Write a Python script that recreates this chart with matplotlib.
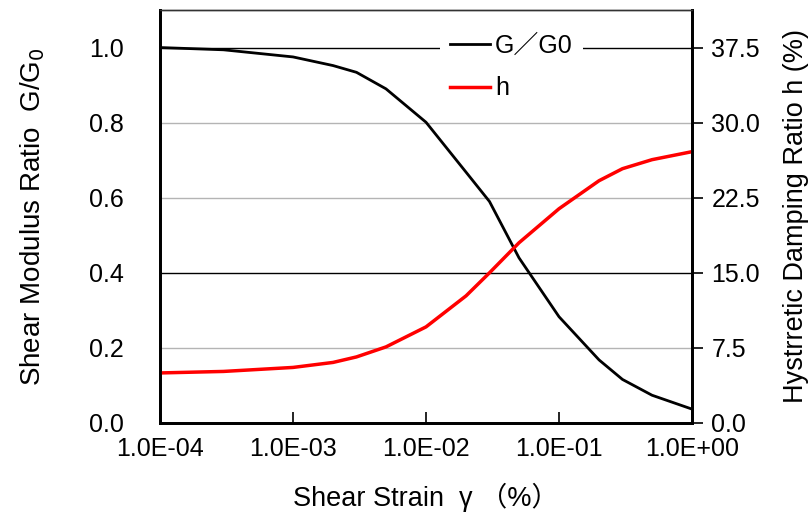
import matplotlib.pyplot as plt
from matplotlib.ticker import FixedLocator, FuncFormatter

plt.rcParams['font.family'] = ['Liberation Sans', 'Noto Sans CJK JP', 'DejaVu Sans']
plt.rcParams['axes.unicode_minus'] = False

strain = [1e-4, 3e-4, 1e-3, 2e-3, 3e-3, 5e-3, 1e-2, 2e-2, 3e-2, 5e-2,
          1e-1, 2e-1, 3e-1, 5e-1, 1.0]
g_ratio = [1.0, 0.994, 0.975, 0.952, 0.934, 0.890, 0.801, 0.668, 0.59, 0.44,
           0.283, 0.168, 0.116, 0.074, 0.037]
damping = [5.0, 5.15, 5.55, 6.05, 6.6, 7.6, 9.6, 12.7, 15.0, 18.0,
           21.4, 24.2, 25.4, 26.3, 27.1]

fig = plt.figure(figsize=(8.11, 5.18), dpi=100)
ax = fig.add_axes([0.1973, 0.1834, 0.6560, 0.7973])
ax2 = ax.twinx()

# horizontal grid: grey, with black lines at 0.4 and 1.0
for y in [0.2, 0.6, 0.8]:
    ax.axhline(y, color='#b4b4b4', lw=1, zorder=0)
for y in [0.4, 1.0]:
    ax.axhline(y, color='black', lw=1, zorder=0)

l1, = ax.plot(strain, g_ratio, color='black', lw=2, label='G／G0')
l2, = ax2.plot(strain, damping, color='red', lw=2.5, label='h')

ax.set_xscale('log')
ax.set_xlim(1e-4, 1.0)
ax.set_ylim(0, 1.1)
ax2.set_ylim(0, 41.25)

ax.xaxis.set_major_locator(FixedLocator([1e-4, 1e-3, 1e-2, 1e-1, 1.0]))
ax.xaxis.set_minor_locator(FixedLocator([]))
ax.xaxis.set_major_formatter(FuncFormatter(lambda v, p: '%.1E' % v))
ax.set_yticks([0, 0.2, 0.4, 0.6, 0.8, 1.0])
ax.yaxis.set_major_formatter(FuncFormatter(lambda v, p: '%.1f' % v))
ax2.set_yticks([0, 7.5, 15, 22.5, 30, 37.5])
ax2.yaxis.set_major_formatter(FuncFormatter(lambda v, p: '%.1f' % v))

ax.tick_params(axis='x', direction='in', length=8, width=1.2, labelsize=18, pad=10)
ax.tick_params(axis='y', length=0, labelsize=18, pad=26)
ax2.tick_params(axis='y', direction='out', length=8, width=1.2, labelsize=18, pad=6)

for a in (ax, ax2):
    for side in ['left', 'bottom', 'right']:
        a.spines[side].set_linewidth(2)
    a.spines['top'].set_linewidth(1)
    a.spines['top'].set_color('#333333')

ax.set_xlabel('Shear Strain  γ （%）', fontsize=19.5, labelpad=16)
ax.set_ylabel('Shear Modulus Ratio  G/G$_0$', fontsize=20, labelpad=30)
ax2.set_ylabel('Hystrretic Damping Ratio h (%)', fontsize=19.5, labelpad=16)

leg = ax2.legend([l1, l2], ['G／G0', 'h'], loc='center',
                 bbox_to_anchor=(0.66, 0.862), fontsize=18, frameon=True,
                 facecolor='white', edgecolor='none', framealpha=1,
                 handlelength=1.6, handletextpad=0.2, labelspacing=0.75,
                 borderpad=0.4, borderaxespad=0, fancybox=False)

fig.savefig('out.png', dpi=100)
